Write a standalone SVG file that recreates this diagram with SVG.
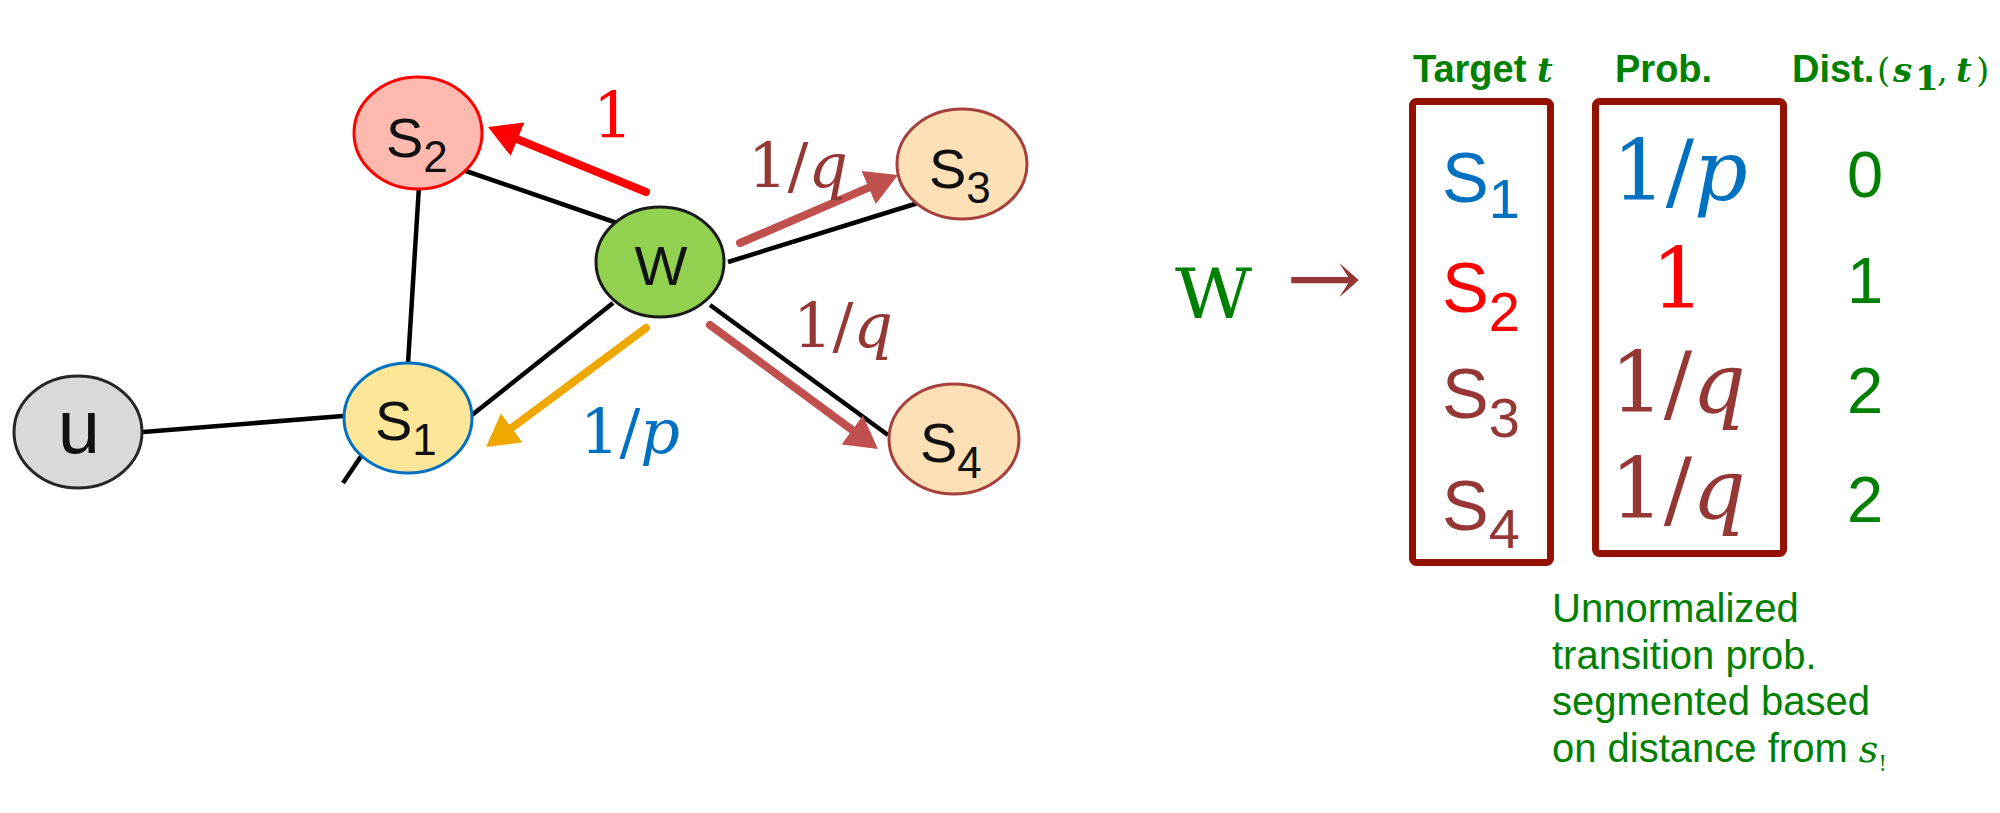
<svg xmlns="http://www.w3.org/2000/svg" width="2000" height="813" viewBox="0 0 2000 813">
<defs>
<style>
.edge{stroke:#000;stroke-width:4.5;fill:none}
.arr{stroke-width:8;stroke-linecap:round;fill:none}
.node{stroke-width:3}
.lbl{font-family:"Liberation Sans",Arial,sans-serif;fill:#111}
.math{font-family:"DejaVu Serif","Liberation Serif",serif}
.it{font-style:italic}
.hdr{font-family:"Liberation Sans",Arial,sans-serif;font-weight:bold;fill:#008000;font-size:38px}
.hm{font-family:"DejaVu Serif","Liberation Serif",serif;fill:#008000;font-size:34px}
.box{fill:none;stroke:#941100;stroke-width:7}
.dist{font-family:"Liberation Sans",Arial,sans-serif;fill:#008000;font-size:65px;text-anchor:middle}
.note{font-family:"Liberation Sans",Arial,sans-serif;fill:#008000;font-size:40px}
</style>
<marker id="hRed" viewBox="0 0 4 4.5" refX="0" refY="2.25" markerWidth="4" markerHeight="4.5" markerUnits="strokeWidth" orient="auto"><path d="M0,0 L4,2.25 L0,4.5 z" fill="#ff0000"/></marker>
<marker id="hOrg" viewBox="0 0 4 4.5" refX="0" refY="2.25" markerWidth="4" markerHeight="4.5" markerUnits="strokeWidth" orient="auto"><path d="M0,0 L4,2.25 L0,4.5 z" fill="#efa800"/></marker>
<marker id="hBrn" viewBox="0 0 4 4.5" refX="0" refY="2.25" markerWidth="4" markerHeight="4.5" markerUnits="strokeWidth" orient="auto"><path d="M0,0 L4,2.25 L0,4.5 z" fill="#c0504d"/></marker>
</defs>

<g id="connectors">
<line class="edge" x1="419" y1="186" x2="408" y2="363"/>
<line class="edge" x1="143" y1="432" x2="343" y2="416"/>
<line class="edge" x1="364" y1="452" x2="343" y2="483"/>
<line class="edge" x1="463" y1="170" x2="617" y2="223"/>
<line class="edge" x1="613" y1="303" x2="472" y2="415"/>
<line class="edge" x1="728" y1="262" x2="918" y2="203"/>
<line class="edge" x1="710" y1="305" x2="888" y2="435"/>
<line class="arr" stroke="#ff0000" x1="646" y1="192" x2="517.6" y2="139.2" marker-end="url(#hRed)"/>
<line class="arr" stroke="#efa800" x1="646" y1="328" x2="511.7" y2="427.9" marker-end="url(#hOrg)"/>
<line class="arr" stroke="#c0504d" x1="740" y1="243" x2="868.6" y2="187.6" marker-end="url(#hBrn)"/>
<line class="arr" stroke="#c0504d" x1="710" y1="325" x2="852.2" y2="430" marker-end="url(#hBrn)"/>
</g>

<g id="edge-labels">
<text class="math" x="613" y="138" font-size="63" fill="#ff0000" text-anchor="middle">1</text>
<text class="math" x="748" y="187" font-size="62" fill="#953735">1/<tspan class="it">q</tspan></text>
<text class="math" x="793" y="347" font-size="62" fill="#953735">1/<tspan class="it">q</tspan></text>
<text class="math" x="580" y="453" font-size="62" fill="#0070c0">1/<tspan class="it">p</tspan></text>
</g>

<g id="node-u">
<ellipse class="node" cx="78" cy="432" rx="64" ry="56" fill="#d9d9d9" stroke="#262626"/>
<text class="lbl" x="79" y="453" font-size="76" text-anchor="middle">u</text>
</g>
<g id="node-s2">
<ellipse class="node" cx="418" cy="133" rx="64" ry="56" fill="#ffb9ae" stroke="#ff0000"/>
<text class="lbl" x="386" y="157" font-size="56">S<tspan font-size="44" dy="15">2</tspan></text>
</g>
<g id="node-s1">
<ellipse class="node" cx="408" cy="418" rx="64" ry="55" fill="#ffe699" stroke="#0070c0"/>
<text class="lbl" x="375" y="440" font-size="56">S<tspan font-size="44" dy="15">1</tspan></text>
</g>
<g id="node-w">
<ellipse class="node" cx="660" cy="262" rx="64" ry="55" fill="#92d050" stroke="#1a1a1a"/>
<text class="lbl" x="661" y="285" font-size="56" text-anchor="middle">W</text>
</g>
<g id="node-s3">
<ellipse class="node" cx="962" cy="164" rx="65" ry="55" fill="#fde0b6" stroke="#a5403c"/>
<text class="lbl" x="929" y="188" font-size="56">S<tspan font-size="44" dy="15">3</tspan></text>
</g>
<g id="node-s4">
<ellipse class="node" cx="954" cy="439" rx="65" ry="55" fill="#fde0b6" stroke="#a5403c"/>
<text class="lbl" x="920" y="462" font-size="56">S<tspan font-size="44" dy="16">4</tspan></text>
</g>

<g id="table">
<text class="math" x="1175" y="318" font-size="70" fill="#008000" textLength="77" lengthAdjust="spacingAndGlyphs">W</text>
<text class="math" x="1286" y="306" font-size="80" fill="#953735" textLength="76" lengthAdjust="spacingAndGlyphs">→</text>

<text class="hdr" x="1413" y="82">Target</text>
<text class="hm it" x="1537" y="82" font-size="38" font-weight="bold">t</text>
<text class="hdr" x="1615" y="82">Prob.</text>
<text class="hdr" x="1792" y="82">Dist.</text>
<text class="hm" x="1877" y="82" font-size="38">(</text>
<text class="hm it" x="1893" y="82" font-weight="bold">s</text>
<text class="hm" x="1915" y="90" font-size="20" font-weight="bold">1</text>
<text class="hm" x="1937" y="82">,</text>
<text class="hm it" x="1956" y="82" font-weight="bold">t</text>
<text class="hm" x="1976" y="82" font-size="38">)</text>

<rect class="box" x="1412.5" y="101.5" width="138" height="461" rx="4"/>
<rect class="box" x="1595.5" y="101.5" width="188" height="452" rx="4"/>

<text class="lbl" x="1442" y="202" font-size="70" style="fill:#0070c0">S<tspan font-size="56" dy="16">1</tspan></text>
<text class="lbl" x="1442" y="312" font-size="70" style="fill:#ff0000">S<tspan font-size="56" dy="19">2</tspan></text>
<text class="lbl" x="1442" y="418" font-size="70" style="fill:#953735">S<tspan font-size="56" dy="19">3</tspan></text>
<text class="lbl" x="1442" y="530" font-size="70" style="fill:#953735">S<tspan font-size="56" dy="18">4</tspan></text>

<text class="math" x="1680" y="200" font-size="84" fill="#0070c0" text-anchor="middle">1/<tspan class="it">p</tspan></text>
<text class="math" x="1678" y="308" font-size="84" fill="#ff0000" text-anchor="middle">1</text>
<text class="math" x="1678" y="412" font-size="84" fill="#953735" text-anchor="middle">1/<tspan class="it">q</tspan></text>
<text class="math" x="1678" y="518" font-size="84" fill="#953735" text-anchor="middle">1/<tspan class="it">q</tspan></text>

<text class="dist" x="1865" y="197">0</text>
<text class="dist" x="1865" y="303">1</text>
<text class="dist" x="1865" y="413">2</text>
<text class="dist" x="1865" y="522">2</text>

<text class="note" x="1552" y="622">Unnormalized</text>
<text class="note" x="1552" y="669">transition prob.</text>
<text class="note" x="1552" y="715">segmented based</text>
<text class="note" x="1552" y="762">on distance from <tspan class="math it" font-size="38">s</tspan><tspan class="math" font-size="22" dy="9">!</tspan></text>
</g>
</svg>
